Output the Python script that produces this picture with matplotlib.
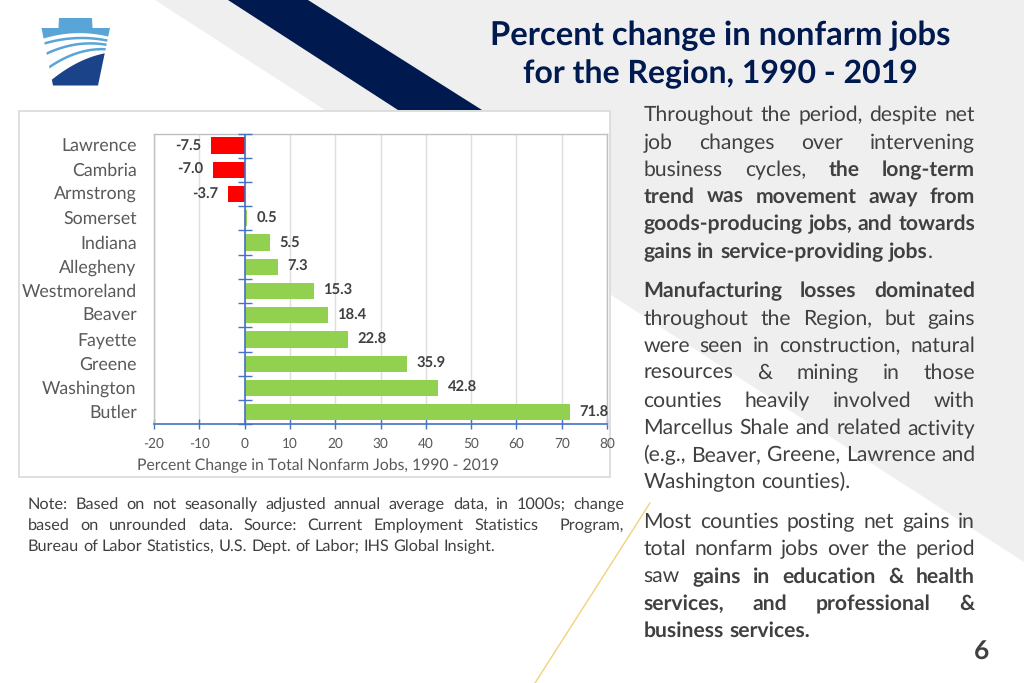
import numpy as np
import matplotlib
matplotlib.use("Agg")
import matplotlib.pyplot as plt
from matplotlib.patches import Polygon, Rectangle
from matplotlib.transforms import ScaledTranslation

counties = ["Lawrence", "Cambria", "Armstrong", "Somerset", "Indiana", "Allegheny",
            "Westmoreland", "Beaver", "Fayette", "Greene", "Washington", "Butler"]
pct_change = [-7.5, -7.0, -3.7, 0.5, 5.5, 7.3, 15.3, 18.4, 22.8, 35.9, 42.8, 71.8]
x_ticks = [-20, -10, 0, 10, 20, 30, 40, 50, 60, 70, 80]

title_lines = ["Percent change in nonfarm jobs", "for the Region, 1990 - 2019"]
x_label = "Percent Change in Total Nonfarm Jobs, 1990 - 2019"

# '*' starts a bold word, '|' joins a non-bold tail without a space
body_lines = [
    (121, "Throughout the period, despite net", True),
    (149, "job changes over intervening", True),
    (176, "business cycles, *the *long-term", True),
    (203, "*trend *was *movement *away *from", True),
    (230, "*goods-producing *jobs, *and *towards", True),
    (258, "*gains *in *service-providing *jobs|.", False),
    (297, "*Manufacturing *losses *dominated", True),
    (325, "throughout the Region, but gains", True),
    (352, "were seen in construction, natural", True),
    (379, "resources & mining in those", True),
    (407, "counties heavily involved with", True),
    (434, "Marcellus Shale and related activity", True),
    (461, "(e.g., Beaver, Greene, Lawrence and", True),
    (488, "Washington counties).", False),
    (528, "Most counties posting net gains in", True),
    (555, "total nonfarm jobs over the period", True),
    (583, "saw *gains *in *education *& *health", True),
    (610, "*services, *and *professional *&", True),
    (637, "*business *services.", False),
]
note_lines = [
    (509, "Note: Based on not seasonally adjusted annual average data, in 1000s; change", True),
    (530, "based on unrounded data. Source: Current Employment Statistics  Program,", True),
    (551, "Bureau of Labor Statistics, U.S. Dept. of Labor; IHS Global Insight.", False),
]

W, H = 1024, 683
plt.rcParams["font.family"] = ["Lato", "DejaVu Sans"]
plt.rcParams["text.hinting"] = "no_hinting"
plt.rcParams["axes.unicode_minus"] = False
fig = plt.figure(figsize=(W / 100, H / 100), dpi=100, facecolor="white")

bg = fig.add_axes([0, 0, 1, 1], zorder=0)
bg.set_xlim(0, W); bg.set_ylim(H, 0); bg.axis("off")
bg.add_patch(Polygon([(155, 0), (W, 0), (W, 562)], fc="#EFEFF0", ec="none"))
bg.add_patch(Polygon([(228, 0), (308, 0), (482, 110), (398, 110)], fc="#001A4F", ec="none"))
bg.plot([650, 535], [503, 683], color="#F2D27A", lw=1.0)
bg.add_patch(Rectangle((18.5, 110.5), 591.5, 366.5, fc="white", ec="#D9D9D9", lw=1.2, zorder=3))


# keystone logo
def curve(pts, x_left, x_right):
    px, py = zip(*pts)
    xs = np.linspace(x_left, x_right, 40)
    return xs, np.polyval(np.polyfit(px, py, 2), xs)


keystone = Polygon([(59, 18), (92, 18), (92.5, 28), (110, 28), (98, 85.5), (53, 85.5), (41.5, 28), (58.5, 28)],
                   fc="white", ec="none", transform=bg.transData)
bg.add_patch(keystone)
cx, cy = curve([(43, 38.7), (70, 33.5), (108, 36.5)], 40, 112)
top = bg.add_patch(Polygon([(40, 15), (112, 15)] + list(zip(cx, cy))[::-1], fc="#5AA5D8", ec="none"))
top.set_clip_path(keystone)
cx, cy = curve([(52.7, 79), (76.7, 63.3), (105, 53.3)], 50, 110)
dark = bg.add_patch(Polygon(list(zip(cx, cy)) + [(110, 90), (50, 90)], fc="#1B4389", ec="none"))
dark.set_clip_path(keystone)
for pts in [[(45, 43.3), (73, 38.3), (108, 40.7)],
            [(47.3, 53.3), (73, 45), (107.7, 45)],
            [(50, 66.7), (76.7, 53.3), (106.7, 49.3)]]:
    cx, cy = curve(pts, 42, 110)
    line, = bg.plot(cx, cy, color="#5AA5D8", lw=1.8, solid_capstyle="butt")
    line.set_clip_path(keystone)

# title
bg.text(720, 45, title_lines[0], ha="center", va="baseline", fontsize=23.6, fontweight="bold", color="#001A4F", zorder=5)
bg.text(720, 83, title_lines[1], ha="center", va="baseline", fontsize=23.0, fontweight="bold", color="#001A4F", zorder=5)
bg.text(982, 652, "6", ha="center", va="center", fontsize=19, fontweight="bold", color="#404040", zorder=5)


def draw_lines(lines, x0, x1, size, color):
    renderer = fig.canvas.get_renderer()

    def width(s, bold):
        if not s:
            return 0.0
        t = bg.text(0, 0, s, fontsize=size, fontweight="bold" if bold else "normal")
        w = t.get_window_extent(renderer).width
        t.remove()
        return w

    space = width("n n", False) - width("nn", False)
    for y, line, justify in lines:
        words = []
        for tok in line.split(" "):
            bold = tok.startswith("*")
            tok = tok.lstrip("*")
            parts = tok.split("|")
            segs = [(parts[0], bold)] + [(p, False) for p in parts[1:]]
            words.append(segs)
        widths = [sum(width(s, b) for s, b in w) for w in words]
        gap = (x1 - x0 - sum(widths)) / (len(words) - 1) if justify else space
        x = x0
        for w, ww in zip(words, widths):
            xx = x
            for s, b in w:
                if s:
                    bg.text(xx, y, s, ha="left", va="baseline", fontsize=size,
                            fontweight="bold" if b else "normal", color=color, zorder=5)
                xx += width(s, b)
            x += ww + gap


draw_lines(body_lines, 643.5, 975, 15.2, "#404040")
draw_lines(note_lines, 27.5, 624, 11.7, "#404040")

# chart
left, right, top_px, bottom = 154, 607, 133.5, 424.3
ax = fig.add_axes([left / W, 1 - bottom / H, (right - left) / W, (bottom - top_px) / H], zorder=2)
ax.patch.set_alpha(0)
y = np.arange(len(counties))
colors = ["#FF0000" if v < 0 else "#92D050" for v in pct_change]
ax.barh(y, pct_change, height=0.67, color=colors, zorder=3)
ax.set_xlim(x_ticks[0], x_ticks[-1])
ax.set_ylim(len(counties) - 0.5, -0.5)
ax.set_xticks(x_ticks)
ax.set_yticks(y, counties)
ax.grid(axis="x", color="#DEDEDE", lw=1.0, zorder=1)
ax.set_axisbelow(True)
ax.tick_params(axis="y", length=0, pad=12.5, labelsize=12.8, labelcolor="#595959")
shift = ScaledTranslation(0, -6.0 / 100, fig.dpi_scale_trans)
for lab in ax.get_yticklabels():
    lab.set_verticalalignment("baseline")
    lab.set_transform(lab.get_transform() + shift)
ax.tick_params(axis="x", direction="inout", length=7, width=1.0, color="#4472C4",
               pad=6, labelsize=9.8, labelcolor="#595959")
for s in ["top", "right", "left"]:
    ax.spines[s].set_color("#BFBFBF")
    ax.spines[s].set_linewidth(1.0)
ax.spines["bottom"].set_color("#4472C4")
ax.spines["bottom"].set_linewidth(1.2)
ax.axvline(0, color="#4472C4", lw=1.2, zorder=4)
ax.plot(np.zeros(len(counties) + 1), np.arange(len(counties) + 1) - 0.5, ls="none", marker="_",
        ms=9.4, mew=1.0, color="#4472C4", zorder=4, clip_on=False)
ax.set_xlabel(x_label, x=(318 - left) / (right - left), ha="center", fontsize=11.3, color="#595959", labelpad=5.5)
for yi, v in zip(y, pct_change):
    ax.annotate(f"{v:.1f}", (v, yi), xytext=(6.8 if v > 0 else -6.8, 0), textcoords="offset points",
                ha="left" if v > 0 else "right", va="center", fontsize=10.6, fontweight="bold",
                color="#404040", zorder=5)

fig.savefig("out.png", dpi=100)
